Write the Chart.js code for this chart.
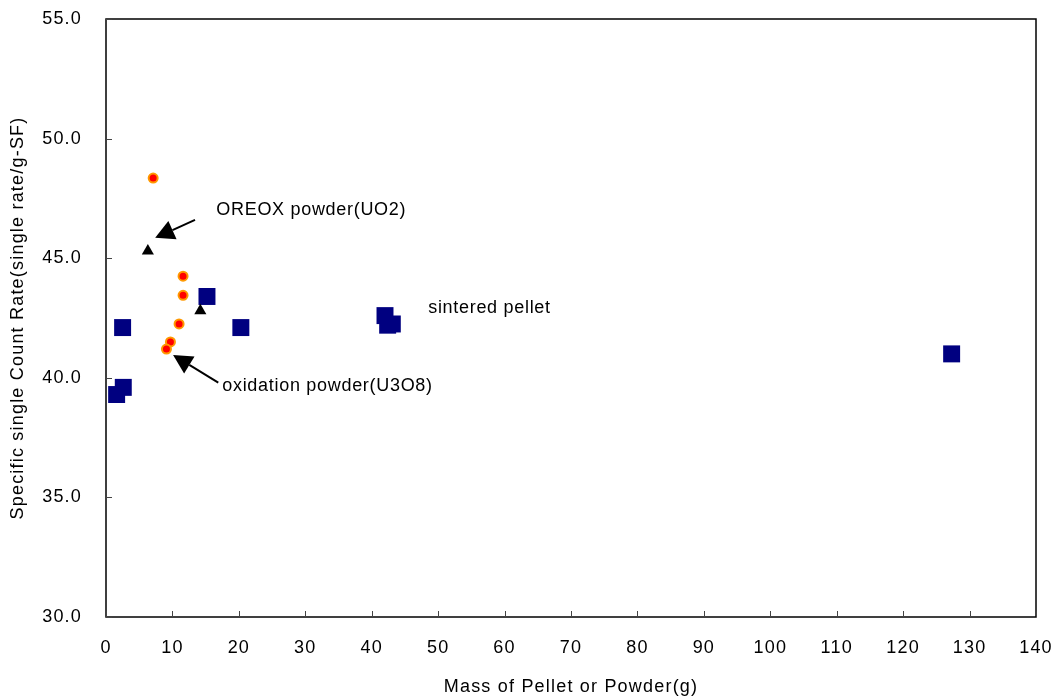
<!DOCTYPE html>
<html>
<head>
<meta charset="utf-8">
<script src="https://cdn.jsdelivr.net/npm/chart.js@4"></script>
<style>
  html, body { margin: 0; padding: 0; background: #fff; }
  #wrap { width: 1061px; height: 699px; }
</style>
</head>
<body>
<div id="wrap"><canvas id="chart"></canvas></div>
<script>
// values
const pelletX = [1.6, 2.6, 2.5, 15.2, 20.3, 42.0, 42.4, 43.1, 127.3];
const pelletY = [39.3, 39.6, 42.1, 43.4, 42.1, 42.6, 42.2, 42.25, 41.0];

const oreoxX = [6.3, 14.2];
const oreoxY = [45.3, 42.8];

const oxidX = [7.1, 11.6, 11.6, 11.0, 9.7, 9.1];
const oxidY = [48.35, 44.25, 43.45, 42.25, 41.5, 41.2];

const xTicks = [0, 10, 20, 30, 40, 50, 60, 70, 80, 90, 100, 110, 120, 130, 140];
const yTicks = [30, 35, 40, 45, 50, 55];

const toPoints = (xs, ys) => xs.map((x, i) => ({ x: x, y: ys[i] }));

const FONT = 'Liberation Sans, Arial, sans-serif';
const SPACING = '1.2px';

// annotation text / arrows, in data units
const notes = [
  { text: 'OREOX powder(UO2)', x: 16.6, y: 47.0 },
  { text: 'sintered pellet', x: 48.5, y: 42.9 },
  { text: 'oxidation powder(U3O8)', x: 17.5, y: 39.65 }
];
const arrows = [
  { from: [13.4, 46.6], to: [7.4, 45.85] },
  { from: [16.9, 39.8], to: [10.1, 40.95] }
];

// the original text is a little spread out
const spacingPlugin = {
  id: 'spacing',
  beforeLayout(chart) { chart.ctx.letterSpacing = SPACING; },
  beforeDraw(chart) { chart.ctx.letterSpacing = SPACING; }
};

const framePlugin = {
  id: 'frame',
  afterDraw(chart) {
    const ctx = chart.ctx;
    const a = chart.chartArea;
    const xs = chart.scales.x, ys = chart.scales.y;
    ctx.save();
    ctx.strokeStyle = '#000';
    ctx.lineWidth = 1.5;
    ctx.strokeRect(a.left, a.top, a.right - a.left, a.bottom - a.top);
    ctx.lineWidth = 1;
    ctx.strokeStyle = '#444';
    ctx.beginPath();
    xTicks.forEach(t => {
      const px = Math.round(xs.getPixelForValue(t)) + 0.5;
      ctx.moveTo(px, a.bottom);
      ctx.lineTo(px, a.bottom - 6);
    });
    yTicks.forEach(t => {
      const py = Math.round(ys.getPixelForValue(t)) + 0.5;
      ctx.moveTo(a.left, py);
      ctx.lineTo(a.left + 6, py);
    });
    ctx.stroke();

    // arrows
    ctx.strokeStyle = '#000';
    ctx.fillStyle = '#000';
    ctx.lineWidth = 2;
    arrows.forEach(ar => {
      const x1 = xs.getPixelForValue(ar.from[0]), y1 = ys.getPixelForValue(ar.from[1]);
      const x2 = xs.getPixelForValue(ar.to[0]), y2 = ys.getPixelForValue(ar.to[1]);
      const ang = Math.atan2(y2 - y1, x2 - x1);
      const len = 19, half = 10;
      const bx = x2 - len * Math.cos(ang), by = y2 - len * Math.sin(ang);
      ctx.beginPath();
      ctx.moveTo(x1, y1);
      ctx.lineTo(bx, by);
      ctx.stroke();
      ctx.beginPath();
      ctx.moveTo(x2, y2);
      ctx.lineTo(bx + half * Math.sin(ang), by - half * Math.cos(ang));
      ctx.lineTo(bx - half * Math.sin(ang), by + half * Math.cos(ang));
      ctx.closePath();
      ctx.fill();
    });

    ctx.letterSpacing = '0.7px';
    ctx.font = '18px ' + FONT;
    ctx.textAlign = 'left';
    ctx.textBaseline = 'middle';
    notes.forEach(n => {
      ctx.fillText(n.text, xs.getPixelForValue(n.x), ys.getPixelForValue(n.y));
    });
    ctx.restore();
  }
};

const noPad = (scale) => {
  scale.paddingLeft = 0;
  scale.paddingRight = 0;
  scale.paddingTop = 0;
  scale.paddingBottom = 0;
};

Chart.defaults.font.family = FONT;
Chart.defaults.color = '#000';

const ctx = document.getElementById('chart').getContext('2d');
const chart = new Chart(ctx, {
  type: 'scatter',
  data: {
    datasets: [
      {
        label: 'oxidation powder(U3O8)',
        data: toPoints(oxidX, oxidY),
        pointStyle: 'circle',
        pointRadius: 4.5,
        borderWidth: 2,
        backgroundColor: '#ff0000',
        borderColor: '#ff9900'
      },
      {
        label: 'OREOX powder(UO2)',
        data: toPoints(oreoxX, oreoxY),
        pointStyle: 'triangle',
        pointRadius: 7,
        borderWidth: 0,
        backgroundColor: '#000',
        borderColor: '#000'
      },
      {
        label: 'sintered pellet',
        data: toPoints(pelletX, pelletY),
        pointStyle: 'rect',
        pointRadius: 12,
        borderWidth: 0,
        backgroundColor: '#000080',
        borderColor: '#000080'
      }
    ]
  },
  options: {
    responsive: true,
    maintainAspectRatio: false,
    animation: false,
    events: [],
    layout: { padding: { top: 19, right: 25, left: 0, bottom: 0 } },
    plugins: {
      legend: { display: false },
      tooltip: { enabled: false }
    },
    scales: {
      x: {
        type: 'linear',
        min: 0,
        max: 140,
        afterFit(scale) { scale.height = 82; noPad(scale); },
        afterBuildTicks(scale) { scale.ticks = xTicks.map(v => ({ value: v })); },
        grid: { display: false, drawTicks: false },
        border: { display: false },
        ticks: {
          padding: 20,
          font: { size: 18 },
          maxRotation: 0,
          autoSkip: false
        },
        title: {
          display: true,
          text: 'Mass of Pellet or Powder(g)',
          font: { size: 18 },
          padding: { top: 0, bottom: 1 }
        }
      },
      y: {
        type: 'linear',
        min: 30,
        max: 55,
        afterFit(scale) { scale.width = 106; noPad(scale); },
        afterBuildTicks(scale) { scale.ticks = yTicks.map(v => ({ value: v })); },
        grid: { display: false, drawTicks: false },
        border: { display: false },
        ticks: {
          padding: 24,
          font: { size: 18 },
          callback: v => Number(v).toFixed(1)
        },
        title: {
          display: true,
          text: 'Specific single Count Rate(single rate/g-SF)',
          font: { size: 18 },
          padding: { top: 7, bottom: 0 }
        }
      }
    }
  },
  plugins: [spacingPlugin, framePlugin]
});
</script>
</body>
</html>
